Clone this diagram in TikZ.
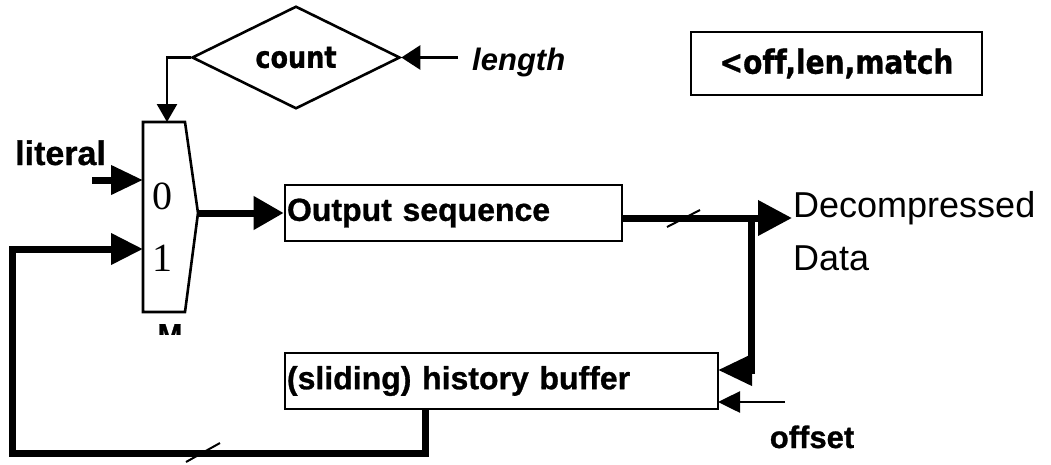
\documentclass[tikz,border=0pt]{standalone}
\usepackage{fontspec}
\setmainfont{Liberation Sans}[BoldFeatures={FakeBold=0.9}]
\newfontfamily\digfont{Liberation Serif}
\newfontfamily\tahfont[FakeStretch=0.85,Ligatures=NoCommon,BoldFeatures={FakeBold=0.9}]{DejaVu Sans}
\usetikzlibrary{arrows.meta,shapes.geometric}
\begin{document}
\begin{tikzpicture}[x=1pt,y=-1pt,line join=miter,
  outline/.style={draw=black,line width=2.6pt},
  thinwire/.style={draw=black,line width=2.6pt},
  thickwire/.style={draw=black,line width=7pt},
  smalltip/.style={-{Triangle[length=18pt,width=20pt]}},
  boxlabel/.style={font=\bfseries\fontsize{32}{38}\selectfont},
  labeltext/.style={font=\bfseries\fontsize{31}{37}\selectfont,inner sep=0pt},
  blockbox/.style={outline,anchor=center,inner xsep=2pt,inner ysep=0pt,align=left,boxlabel},
  tick/.style={draw=black,line width=2pt}
]
\useasboundingbox (0,0) rectangle (1051,464);

% diamond "count"
\node[diamond,outline,minimum width=208pt,minimum height=99pt,inner sep=0pt,
      font=\tahfont\bfseries\fontsize{30}{36}\selectfont] (count) at (296,57.5) {count};
\node[labeltext,font=\bfseries\itshape\fontsize{31}{37}\selectfont,anchor=base west] (lenlbl) at (472,70) {length};
\coordinate (lentail) at (458,57.5);

% match box
\node[outline,minimum width=291pt,minimum height=63pt,inner sep=0pt,
      font=\tahfont\bfseries\fontsize{33}{39}\selectfont] (match) at (836.5,63.5) {<off,len,match};

% multiplexer
\coordinate (m1) at (143,122);
\coordinate (m2) at (185,122);
\coordinate (m3) at (198,213);
\coordinate (m4) at (185,312);
\coordinate (m5) at (143,312);
\draw[outline,fill=white] (m1) -- (m2) -- (m3) -- (m4) -- (m5) -- cycle;
\coordinate (muxtop) at (167,122);
\coordinate (in0) at (143,180);
\coordinate (in1) at (143,249);
\coordinate (muxout) at (198,213);
\node[font=\digfont\fontsize{40}{44}\selectfont,inner sep=0pt] (zero) at (162,196) {0};
\node[font=\digfont\fontsize{40}{44}\selectfont,inner sep=0pt] (one) at (162,258) {1};
\begin{scope}
  \clip (140,318) rectangle (200,334);
  \node[font=\bfseries\fontsize{30}{36}\selectfont,inner sep=0pt,anchor=north] (mlbl) at (170,324) {M};
\end{scope}

% literal
\node[labeltext,font=\bfseries\fontsize{34}{40}\selectfont,anchor=base west] (lit) at (15,165) {literal};
\coordinate (littail) at (92,180);

% blocks
\node[blockbox,minimum width=337pt,minimum height=56pt,text width=333pt] (outseq) at (453.5,213) {Output sequence};
\node[blockbox,minimum width=433pt,minimum height=56pt,text width=429pt] (hist) at (501.5,381) {(sliding) history buffer};

% output label
\node[font=\fontsize{36}{53}\selectfont,align=left,inner sep=0pt,anchor=north west] (dec) at (793,191) {Decompressed\\Data};
\coordinate (dectip) at (792,218);
\coordinate (branch) at (751,218);
\coordinate (branchlow) at (751,370);
\coordinate (histin1) at (718,370);
\coordinate (histin2) at (718,402);
\coordinate (offtail) at (785,402);
\node[labeltext,anchor=base] (offlbl) at (812,448) {offset};

% feedback loop corners
\coordinate (histout) at (425,409);
\coordinate (fb1) at (425,453);
\coordinate (fb2) at (12,453);
\coordinate (fb3) at (12,249);

% connectors
\draw[thinwire,smalltip] (count.west) -| (muxtop);
\draw[thinwire,-{Triangle[length=19pt,width=24pt]}] (lentail) -- (count.east);
\draw[thickwire,-{Triangle[length=32pt,width=28pt]}] (littail) -- (in0);
\draw[thickwire,-{Triangle[length=30pt,width=32pt]}] (muxout) -- (outseq.west);
\draw[thickwire,-{Triangle[length=34pt,width=34pt]}] (outseq.east |- dectip) -- (dectip);
\draw[thickwire,-{Triangle[length=34pt,width=30pt]}] (branch) -- (branchlow) -- (histin1);
\draw[thinwire,-{Triangle[length=22pt,width=21pt]}] (offtail) -- (histin2);
\draw[thickwire,-{Triangle[length=32pt,width=30pt]}] (histout) -- (fb1) -- (fb2) -- (fb3) -- (in1);

% bus ticks
\draw[tick] (667,227) -- (700,210);
\draw[tick] (186,462) -- (220,443);
\end{tikzpicture}
\end{document}
